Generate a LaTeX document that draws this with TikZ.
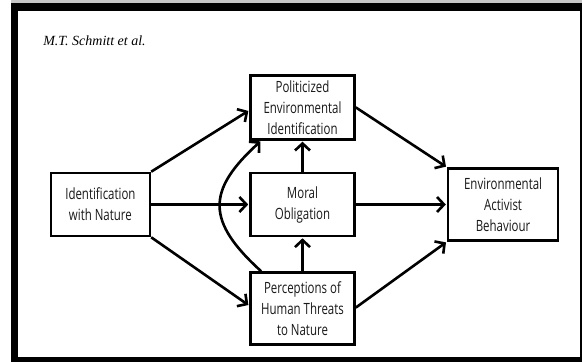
\documentclass[tikz,border=0pt]{standalone}
\usepackage{fontspec}
\setmainfont{Liberation Serif}
\newfontfamily\boxfont[FakeStretch=0.74]{Open Sans}
\usetikzlibrary{arrows.meta,positioning}

\tikzset{
  var/.style={draw,line width=2.6pt,align=center,inner sep=2pt,
    minimum width=104pt,minimum height=63pt,text=black!90,
    font=\boxfont\fontsize{15.5}{21}\selectfont},
}

\begin{document}
\begin{tikzpicture}[x=1pt,y=1pt,line width=2.6pt,
    -{Straight Barb[length=7pt,width=15pt]},shorten >=1pt]
  % page frame
  \useasboundingbox (0,0) rectangle (582,362);
  \fill[gray!45] (11,359) rectangle (582,362);
  \fill[black] (11,0) rectangle (582,359);
  \fill[white] (18,5) rectangle (580,351);
  \node[anchor=base west,inner sep=0pt,font=\itshape\fontsize{14}{16}\selectfont]
    (head) at (42,316) {M.T.\ Schmitt et al.};

  \node   [var]                                   (moral)  at (302.5,157.5) {Moral\\Obligation};
  \node   [var,minimum height=64pt] [above=31pt of moral]  (polit)  {Politicized\\Environmental\\Identification};
  \node   [var,minimum height=72pt] [below=34pt of moral]  (percep) {Perceptions of\\Human Threats\\to Nature};
  \node   [var,minimum width=99pt]  [left=98pt of moral]   (ident)  {Identification\\with Nature};
  \node   [var,minimum width=110pt,minimum height=72pt] [right=91pt of moral] (env) {Environmental\\Activist\\Behaviour};

  \path   (ident.north east) edge ([yshift=-3pt]polit.west)
          (ident.east)       edge (moral.west)
          (ident.south east) edge ([yshift=3pt]percep.west);

  \path   (moral.north)  edge (polit.south)
          (percep.north) edge (moral.south);

  \draw   ([xshift=12pt]percep.north west)
          .. controls +(-55,50) and +(-55,-50) .. ([xshift=12pt]polit.south west);

  \path   ([yshift=0pt]polit.east) edge (env.north west)
          (moral.east)             edge (env.west)
          ([yshift=1pt]percep.east) edge (env.south west);
\end{tikzpicture}
\end{document}
